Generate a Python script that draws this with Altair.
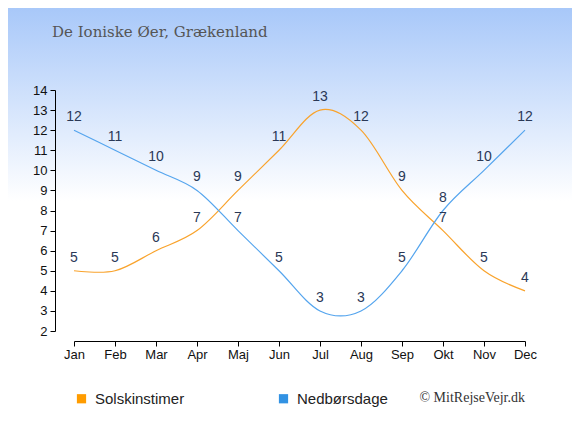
import altair as alt
import pandas as pd

months = ["Jan", "Feb", "Mar", "Apr", "Maj", "Jun", "Jul", "Aug", "Sep", "Okt", "Nov", "Dec"]
sun_hours = [5, 5, 6, 7, 9, 11, 13, 12, 9, 7, 5, 4]
rain_days = [12, 11, 10, 9, 7, 5, 3, 3, 5, 8, 10, 12]
series_names = ["Solskinstimer", "Nedbørsdage"]
line_colors = ["#f9a32c", "#55a5ee"]
legend_colors = ["#ff9c00", "#3292e3"]
title_text = "De Ioniske Øer, Grækenland"
credit_text = "© MitRejseVejr.dk"

W, H = 451, 241
PL, PT, PR, PB = 66, 82, 47, 96

rows = []
for m, s, r in zip(months, sun_hours, rain_days):
    rows.append({"month": m, "series": series_names[0], "value": s})
    rows.append({"month": m, "series": series_names[1], "value": r})
df = pd.DataFrame(rows)

x_enc = alt.X("month:O", sort=months, scale=alt.Scale(padding=0),
              axis=alt.Axis(title=None, labelAngle=0, offset=10, tickSize=5,
                            labelPadding=2, domainColor="#000", tickColor="#000",
                            labelColor="#111", labelFontSize=13,
                            labelFont="Liberation Sans", grid=False, zindex=1))
y_enc = alt.Y("value:Q", scale=alt.Scale(domain=[2, 14], nice=False, zero=False),
              axis=alt.Axis(title=None, values=list(range(2, 15)), offset=19,
                            tickSize=5, labelPadding=3, domainColor="#000",
                            tickColor="#000", labelColor="#111", labelFontSize=13,
                            labelFont="Liberation Sans", grid=False, zindex=1))

bg = alt.Chart(pd.DataFrame({"a": [0]})).mark_rect(
    color=alt.Gradient(
        gradient="linear",
        stops=[alt.GradientStop(offset=0, color="#a8c8f9"),
               alt.GradientStop(offset=0.46, color="#ffffff"),
               alt.GradientStop(offset=1, color="#ffffff")],
        x1=0, x2=0, y1=0, y2=1)
).encode(x=alt.value(-PL), x2=alt.value(W + PR), y=alt.value(-PT), y2=alt.value(H + PB))

base = alt.Chart(df)

lines = base.mark_line(interpolate="cardinal", strokeWidth=1.2).encode(
    x=x_enc, y=y_enc,
    stroke=alt.Stroke("series:N", scale=alt.Scale(domain=series_names, range=line_colors),
                      legend=None),
)

legend_pts = base.mark_point(filled=True, shape="square", opacity=0).encode(
    x=x_enc, y=y_enc,
    fill=alt.Fill("series:N", scale=alt.Scale(domain=series_names, range=legend_colors),
                  legend=alt.Legend(title=None, orient="none", legendX=0, legendY=301,
                                    direction="horizontal", symbolType="square",
                                    symbolSize=85, symbolOpacity=1, symbolStrokeWidth=0,
                                    labelFontSize=15, labelFont="Liberation Sans",
                                    labelColor="#222", labelOffset=6, columnPadding=91)),
)

labels = base.mark_text(fontSize=14, font="Liberation Sans", color="#2a3856",
                        dy=-13, baseline="middle").encode(
    x=x_enc, y=y_enc, text=alt.Text("value:Q"))

title = alt.Chart(pd.DataFrame({"t": [title_text]})).mark_text(
    font="DejaVu Serif", fontSize=15, color="#555555", align="left", baseline="middle"
).encode(text="t:N", x=alt.value(52 - 74), y=alt.value(32 - 90))

credit = alt.Chart(pd.DataFrame({"t": [credit_text]})).mark_text(
    font="Liberation Serif", fontSize=14, color="#333333", align="right", baseline="middle"
).encode(text="t:N", x=alt.value(525 - 74), y=alt.value(398 - 90))

chart = alt.layer(bg, lines, legend_pts, labels, title, credit).resolve_scale(
    fill="independent", stroke="independent"
).properties(
    width=W, height=H,
    autosize=alt.AutoSizeParams(type="none"),
    padding={"left": PL, "top": PT, "right": PR, "bottom": PB},
).configure_view(stroke=None)

chart.save("out.html", embed_options={"renderer": "svg", "actions": False})
